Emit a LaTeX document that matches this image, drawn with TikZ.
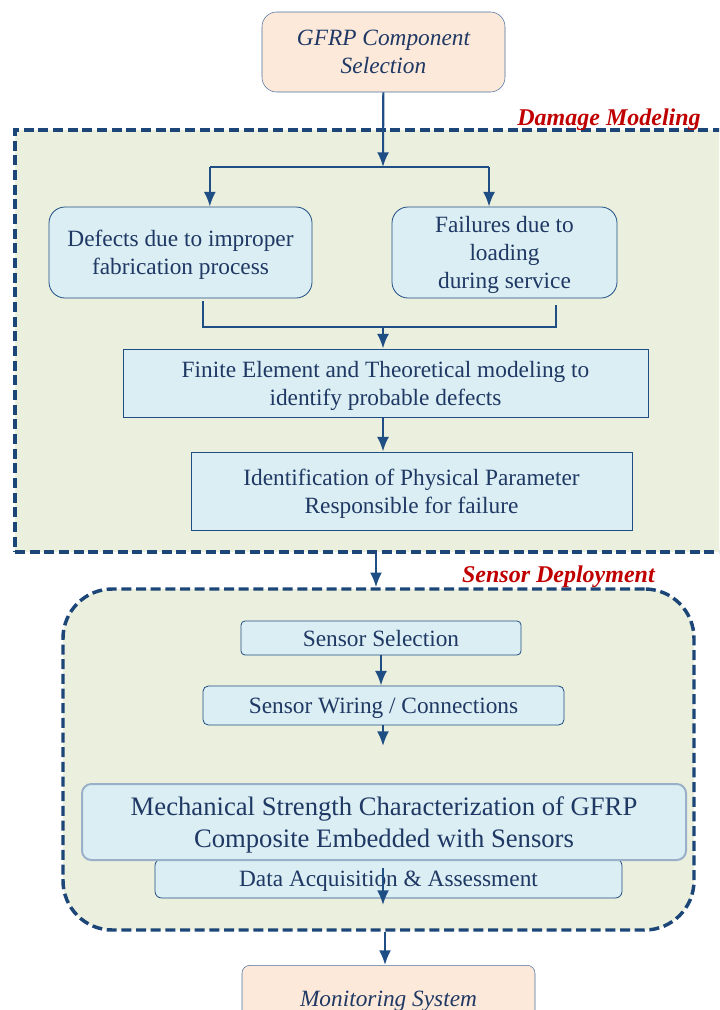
\documentclass[tikz,border=0pt]{standalone}
\usepackage{fontspec}
\setmainfont{Liberation Serif}
\usetikzlibrary{arrows.meta}
\definecolor{ink}{HTML}{1F3864}
\definecolor{edge}{HTML}{1F4E85}
\definecolor{peach}{HTML}{FCE9DA}
\definecolor{paleblue}{HTML}{DAEEF3}
\definecolor{panel}{HTML}{EBEFDD}
\definecolor{tagred}{HTML}{C00000}
\tikzset
    { flow/.style =
        { draw = edge
        , line width = 1.6pt
        , -{Latex[length=11pt, width=9pt]}
        }
    , plain line/.style =
        { draw = edge
        , line width = 1.6pt
        }
    , end box/.style =
        { draw = edge!80, fill = peach, rounded corners = 11pt
        , text = ink, font = \fontsize{17.5}{21}\selectfont\itshape
        , align = center, inner sep = 0pt, text depth = 0pt
        }
    , step box/.style =
        { draw = edge, fill = paleblue, line width = 0.6pt
        , text = ink, font = \fontsize{17.5}{21}\selectfont
        , align = center, inner sep = 0pt, text depth = 0pt
        }
    , stage frame/.style =
        { draw = edge!90!black, fill = panel, line width = 2.6pt
        , dash pattern = on 7.5pt off 3.5pt, inner sep = 0pt
        }
    , stage tag/.style =
        { text = tagred, font = \fontsize{18}{21}\selectfont\bfseries\itshape
        , inner sep = 0pt
        }
    }

\begin{document}
\begin{tikzpicture}[x=0.75pt, y=-0.75pt]

    \useasboundingbox (0, 0) rectangle (719, 1010);
    \clip (0, 0) rectangle (719, 1010);

    % the two stages
    \node[stage frame, minimum width=536.25pt, minimum height=316.5pt] (damage) at (372.5, 341) {};
    \node[stage frame, rounded corners=37pt, minimum width=473.25pt, minimum height=255.75pt] (sensor) at (378.5, 759.5) {};
    \node[stage tag, anchor=base east] (damagetag) at (701, 125) {Damage Modeling};
    \node[stage tag, anchor=base east] (sensortag) at (655, 582) {Sensor Deployment};

    % boxes
    \node[end box, minimum width=182.25pt, minimum height=60pt] (gfrp) at (383.5, 52) {GFRP Component\\Selection};
    \node[step box, rounded corners=12pt, minimum width=197.25pt, minimum height=68.25pt] (defects) at (180.5, 252.5) {Defects due to improper\\fabrication process};
    \node[step box, rounded corners=12pt, minimum width=168.75pt, minimum height=68.25pt] (failures) at (504.5, 252.5) {Failures due to\\loading\\during service};
    \node[step box, minimum width=393.75pt, minimum height=51pt] (finite) at (385.5, 383) {Finite Element and Theoretical modeling to\\identify probable defects};
    \node[step box, minimum width=330.75pt, minimum height=58.5pt] (ident) at (411.5, 491) {Identification of Physical Parameter\\Responsible for failure};

    \node[step box, rounded corners=3pt, minimum width=210pt, minimum height=25.5pt] (select) at (381, 638) {Sensor Selection};
    \node[step box, rounded corners=4pt, minimum width=270.75pt, minimum height=29.25pt] (wiring) at (383.5, 705.5) {Sensor Wiring / Connections};
    \node[step box, rounded corners=5pt, minimum width=350.25pt, minimum height=29.25pt] (daq) at (388.5, 878.5) {Data Acquisition \& Assessment};
    \node[step box, draw=edge!45, line width=1.5pt, rounded corners=7pt, minimum width=453pt, minimum height=57pt, font=\fontsize{20}{23.5}\selectfont] (mech) at (384, 822) {Mechanical Strength Characterization of GFRP\\Composite Embedded with Sensors};
    \node[end box, rounded corners=6pt, minimum width=219.75pt, minimum height=45pt, anchor=north] (monitor) at (388.5, 965) {\raisebox{-5pt}{Monitoring System}};

    % connectors
    \coordinate (split) at (383, 167);
    \coordinate (merge) at (383, 327);
    \coordinate (open) at (383, 746);
    \coordinate (daqtop) at (383, 868);
    \coordinate (daqtip) at (383, 905);

    \draw[flow] (gfrp) -- (split);
    \draw[plain line] ([xshift=22pt]defects.north |- split) -- ([xshift=-11.6pt]failures.north |- split);
    \draw[flow] ([xshift=22pt]defects.north |- split) -- ([xshift=22pt]defects.north);
    \draw[flow] ([xshift=-11.6pt]failures.north |- split) -- ([xshift=-11.6pt]failures.north);
    \draw[plain line] ([xshift=17pt, yshift=-2pt]defects.south) |- (merge) -| ([xshift=38.6pt, yshift=-5pt]failures.south);
    \draw[flow] (merge) -- (merge |- finite.north);
    \draw[flow] (merge |- finite.south) -- (merge |- ident.north);
    \draw[flow] ([xshift=-3.75pt]select.south |- damage.south) -- ([xshift=-3.75pt]select.south |- sensor.north);
    \draw[flow] (select) -- (select |- wiring.north);
    \draw[flow] (open |- wiring.south) -- (open);
    \draw[flow] (daqtop) -- (daqtip);
    \draw[flow] ([xshift=1.5pt]open |- sensor.south) -- ([xshift=1.5pt]open |- monitor.north);

\end{tikzpicture}
\end{document}
